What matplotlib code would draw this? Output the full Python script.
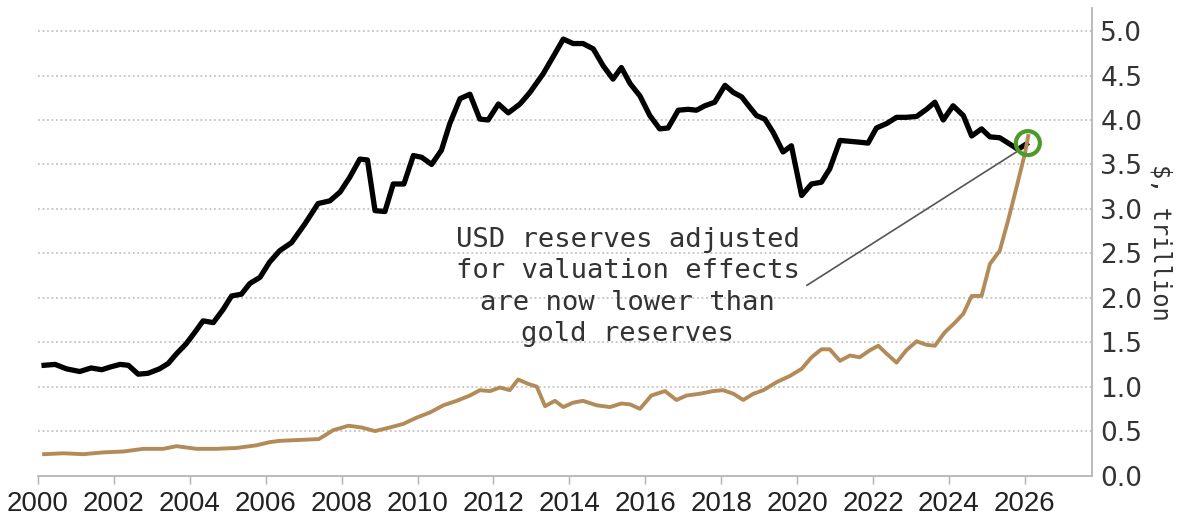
import numpy as np
import matplotlib
matplotlib.use("Agg")
import matplotlib.pyplot as plt
from matplotlib.patches import Ellipse

# USD reserves adjusted for valuation effects ($ trillion)
usd_years = [2000.16, 2000.45, 2000.75, 2001.1, 2001.4, 2001.68, 2001.9, 2002.16, 2002.38,
             2002.64, 2002.9, 2003.2, 2003.43, 2003.65, 2003.9, 2004.13, 2004.35, 2004.62,
             2004.88, 2005.1, 2005.36, 2005.58, 2005.85, 2006.1, 2006.37, 2006.68, 2007.03,
             2007.38, 2007.69, 2007.96, 2008.22, 2008.48, 2008.68, 2008.88, 2009.14, 2009.36,
             2009.64, 2009.89, 2010.11, 2010.37, 2010.63, 2010.85, 2011.12, 2011.38, 2011.64,
             2011.86, 2012.13, 2012.39, 2012.7, 2012.96, 2013.31, 2013.57, 2013.84, 2014.1,
             2014.36, 2014.63, 2014.89, 2015.15, 2015.37, 2015.6, 2015.86, 2016.12, 2016.38,
             2016.6, 2016.87, 2017.13, 2017.35, 2017.57, 2017.83, 2018.1, 2018.32, 2018.54,
             2018.76, 2018.93, 2019.15, 2019.37, 2019.63, 2019.85, 2020.12, 2020.38, 2020.64,
             2020.86, 2021.13, 2021.39, 2021.65, 2021.87, 2022.09, 2022.36, 2022.62, 2022.88,
             2023.15, 2023.41, 2023.63, 2023.85, 2024.11, 2024.38, 2024.6, 2024.86, 2025.08,
             2025.34, 2025.6, 2025.82, 2026.04]
usd_vals = [1.24, 1.25, 1.20, 1.17, 1.21, 1.19, 1.22, 1.25, 1.24,
            1.14, 1.15, 1.20, 1.26, 1.37, 1.48, 1.61, 1.74, 1.72,
            1.87, 2.02, 2.04, 2.16, 2.23, 2.40, 2.53, 2.62, 2.83,
            3.06, 3.09, 3.19, 3.36, 3.56, 3.55, 2.98, 2.97, 3.28,
            3.28, 3.60, 3.58, 3.50, 3.66, 3.96, 4.24, 4.29, 4.01,
            4.00, 4.18, 4.08, 4.18, 4.31, 4.52, 4.71, 4.91, 4.86,
            4.86, 4.80, 4.61, 4.46, 4.59, 4.41, 4.27, 4.05, 3.90,
            3.91, 4.11, 4.12, 4.11, 4.16, 4.20, 4.39, 4.31, 4.26,
            4.14, 4.05, 4.01, 3.86, 3.64, 3.71, 3.15, 3.28, 3.30,
            3.45, 3.77, 3.76, 3.75, 3.74, 3.91, 3.96, 4.03, 4.03,
            4.04, 4.12, 4.20, 4.00, 4.16, 4.05, 3.82, 3.90, 3.81,
            3.80, 3.73, 3.67, 3.73]

# Gold reserves ($ trillion)
gold_years = [2000.16, 2000.67, 2001.19, 2001.72, 2002.25, 2002.77, 2003.3, 2003.65, 2004.18,
              2004.7, 2005.23, 2005.76, 2006.1, 2006.37, 2006.9, 2007.4, 2007.78, 2008.18,
              2008.53, 2008.88, 2009.27, 2009.62, 2009.97, 2010.33, 2010.68, 2011.03, 2011.38,
              2011.64, 2011.91, 2012.17, 2012.43, 2012.65, 2012.92, 2013.14, 2013.36, 2013.62,
              2013.84, 2014.1, 2014.36, 2014.72, 2015.07, 2015.37, 2015.6, 2015.86, 2016.16,
              2016.52, 2016.82, 2017.09, 2017.44, 2017.79, 2018.05, 2018.32, 2018.58, 2018.85,
              2019.11, 2019.46, 2019.81, 2020.12, 2020.38, 2020.64, 2020.86, 2021.13, 2021.39,
              2021.65, 2021.92, 2022.14, 2022.36, 2022.62, 2022.88, 2023.15, 2023.41, 2023.63,
              2023.89, 2024.16, 2024.38, 2024.6, 2024.86, 2025.08, 2025.34, 2025.56, 2025.78,
              2026.0, 2026.09]
gold_vals = [0.24, 0.25, 0.24, 0.26, 0.27, 0.30, 0.30, 0.33, 0.30,
             0.30, 0.31, 0.34, 0.375, 0.39, 0.40, 0.41, 0.51, 0.56,
             0.54, 0.50, 0.54, 0.58, 0.65, 0.71, 0.79, 0.84, 0.90,
             0.96, 0.95, 0.99, 0.96, 1.08, 1.03, 1.00, 0.78, 0.84,
             0.77, 0.82, 0.84, 0.79, 0.77, 0.81, 0.80, 0.75, 0.90,
             0.95, 0.85, 0.90, 0.92, 0.95, 0.96, 0.92, 0.85, 0.92,
             0.96, 1.05, 1.12, 1.20, 1.33, 1.42, 1.42, 1.29, 1.35,
             1.33, 1.41, 1.46, 1.37, 1.27, 1.41, 1.51, 1.47, 1.46,
             1.61, 1.72, 1.82, 2.02, 2.02, 2.38, 2.53, 2.87, 3.24,
             3.62, 3.82]

year_ticks = list(range(2000, 2027, 2))
value_ticks = [0.0, 0.5, 1.0, 1.5, 2.0, 2.5, 3.0, 3.5, 4.0, 4.5, 5.0]
note = "USD reserves adjusted\nfor valuation effects\nare now lower than\ngold reserves"
cross_point = (2026.08, 3.74)

fig = plt.figure(figsize=(11.83, 5.23), dpi=100)
ax = fig.add_axes([38/1183, 1 - 475.5/523, (1092-38)/1183, 467.5/523])

ax.plot(usd_years, usd_vals, color="black", lw=3.8, solid_joinstyle="round", zorder=3)
ax.plot(gold_years, gold_vals, color="#b38b59", lw=2.8, solid_joinstyle="round", zorder=3)

ax.set_xlim(2000, 2027.77)
ax.set_ylim(0, 5.26)

for v in value_ticks[1:]:
    ax.axhline(v, color="#c4c4c4", lw=1.3, ls=(0, (1, 1.5)), zorder=1)

for s in ["left", "top"]:
    ax.spines[s].set_visible(False)
for s in ["right", "bottom"]:
    ax.spines[s].set_color("#b0b0b0")
    ax.spines[s].set_linewidth(1.2)

ax.yaxis.tick_right()
ax.set_yticks(value_ticks)
ax.set_yticklabels([f"{v:.1f}" for v in value_ticks], fontsize=19, color="#333333",
                   family="DejaVu Sans")
ax.tick_params(axis="y", length=0, pad=6)

ax.set_xticks(year_ticks)
ax.set_xticklabels([str(y) for y in year_ticks], fontsize=20, color="#222222",
                   family="Liberation Sans")
ax.tick_params(axis="x", length=6, width=1, color="#b0b0b0", pad=5)

fig.text(1160/1183, 0.537, "$, trillion", rotation=270, ha="center", va="center",
         fontsize=17, family="DejaVu Sans Mono", color="#333333")

# annotation
ax.text(2015.54, 2.12, note, ha="center", va="center", fontsize=19.6,
        family="DejaVu Sans Mono", color="#333333", linespacing=1.27, zorder=4)
ax.plot([2020.26, 2025.85], [2.14, 3.66], color="#555555", lw=1.2, zorder=4)
circ = Ellipse(cross_point, width=24/37.96, height=24/88.9, fill=False,
               edgecolor="#4c9a2a", lw=3, zorder=5)
ax.add_patch(circ)

fig.savefig("out.png", dpi=100)
